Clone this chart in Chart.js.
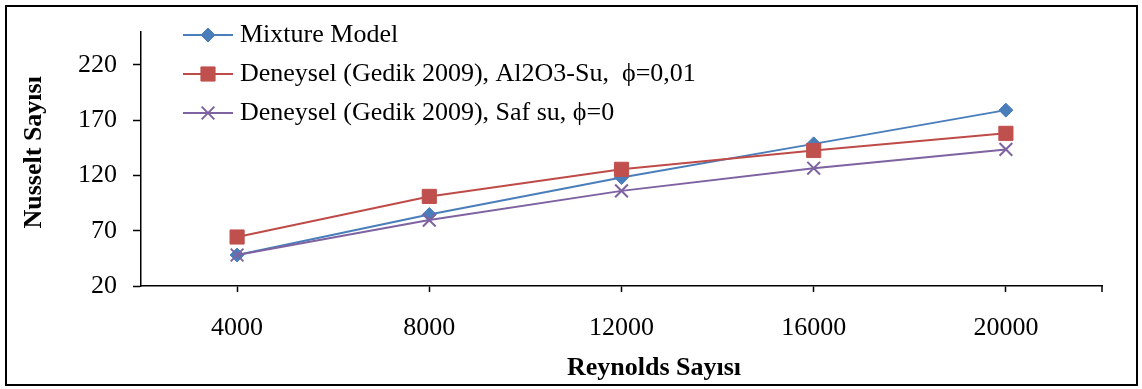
<!DOCTYPE html>
<html>
<head>
<meta charset="utf-8">
<script src="https://cdn.jsdelivr.net/npm/chart.js@4.4.0/dist/chart.umd.min.js"></script>
<style>
  html, body { margin: 0; padding: 0; background: #fff; }
  canvas { display: block; }
</style>
</head>
<body>
<canvas id="myChart" width="1142" height="389"></canvas>
<script>
// values
let reynolds = ["4000", "8000", "12000", "16000", "20000"];
let mixtureModel = [48, 84.6, 118, 148.5, 179];
let gedikAl2O3 = [64.3, 101, 125.5, 142.5, 158];
let gedikSafSu = [48, 79.6, 106, 126.5, 143.5];
let yTicks = [20, 70, 120, 170, 220];
let seriesNames = [
  "Mixture Model",
  "Deneysel (Gedik 2009), Al2O3-Su,  \u03D5=0,01",
  "Deneysel (Gedik 2009), Saf su, \u03D5=0",
];

let serif = '"Liberation Serif", "Times New Roman", serif';

// white background, outer frame and the last tick on the x axis
let framePlugin = {
  id: "frame",
  beforeDraw(chart) {
    let ctx = chart.ctx;
    ctx.save();
    ctx.fillStyle = "#fff";
    ctx.fillRect(0, 0, chart.width, chart.height);
    ctx.strokeStyle = "#000";
    ctx.lineWidth = 2;
    ctx.strokeRect(6, 6, chart.width - 11, chart.height - 10);
    ctx.restore();
  },
  afterDraw(chart) {
    let ctx = chart.ctx;
    let area = chart.chartArea;
    ctx.save();
    ctx.strokeStyle = "#000";
    ctx.lineWidth = 1.5;
    ctx.beginPath();
    ctx.moveTo(area.right, area.bottom);
    ctx.lineTo(area.right, area.bottom + 6);
    ctx.stroke();
    ctx.restore();
  },
};

// excel style legend: line sample with the marker in the middle
let legendPlugin = {
  id: "excelLegend",
  afterDatasetsDraw(chart) {
    let ctx = chart.ctx;
    let x0 = 183, x1 = 233, top = 35, rowH = 39;
    chart.data.datasets.forEach((ds, i) => {
      let y = top + i * rowH;
      ctx.save();
      ctx.strokeStyle = ds.borderColor;
      ctx.lineWidth = ds.borderWidth;
      ctx.beginPath();
      ctx.moveTo(x0, y);
      ctx.lineTo(x1, y);
      ctx.stroke();
      ctx.fillStyle = ds.pointBackgroundColor;
      ctx.strokeStyle = ds.pointBorderColor;
      ctx.lineWidth = ds.pointBorderWidth;
      Chart.helpers.drawPoint(ctx, {
        pointStyle: ds.pointStyle,
        radius: ds.pointRadius,
        rotation: 0,
        borderWidth: ds.pointBorderWidth,
      }, (x0 + x1) / 2, y);
      ctx.fillStyle = "#000";
      ctx.font = "26px " + serif;
      ctx.textBaseline = "middle";
      ctx.textAlign = "left";
      ctx.fillText(ds.label, 240, y);
      ctx.restore();
    });
  },
};

let ctx = document.getElementById("myChart").getContext("2d");
let myChart = new Chart(ctx, {
  type: "line",
  data: {
    labels: reynolds,
    datasets: [
      {
        label: seriesNames[0],
        data: mixtureModel,
        borderColor: "#4A7EBB",
        borderWidth: 2,
        pointStyle: "rectRot",
        pointRadius: 7,
        pointBackgroundColor: "#4A7EBB",
        pointBorderColor: "#4A7EBB",
        pointBorderWidth: 1,
        order: 3,
      },
      {
        label: seriesNames[1],
        data: gedikAl2O3,
        borderColor: "#BE4B48",
        borderWidth: 2,
        pointStyle: "rect",
        pointRadius: 10,
        pointBackgroundColor: "#C0504D",
        pointBorderColor: "#C0504D",
        pointBorderWidth: 1,
        order: 2,
      },
      {
        label: seriesNames[2],
        data: gedikSafSu,
        borderColor: "#7E62A1",
        borderWidth: 2,
        pointStyle: "crossRot",
        pointRadius: 9,
        pointBackgroundColor: "#7E62A1",
        pointBorderColor: "#7E62A1",
        pointBorderWidth: 2,
        order: 1,
      },
    ],
  },
  options: {
    responsive: false,
    devicePixelRatio: 1,
    animation: false,
    layout: { padding: { left: 0, top: 25, right: 40, bottom: 0 } },
    plugins: {
      legend: { display: false },
      tooltip: { enabled: false },
    },
    scales: {
      x: {
        type: "category",
        offset: true,
        grid: { drawOnChartArea: false, drawTicks: true, tickLength: 6, tickColor: "#000", tickWidth: 1.5 },
        border: { color: "#000", width: 1.5 },
        ticks: { color: "#000", font: { family: serif, size: 26 }, padding: 21, maxRotation: 0 },
        title: {
          display: true,
          text: "          Reynolds Sayısı",
          color: "#000",
          font: { family: serif, size: 26, weight: "bold" },
          padding: { top: 0, bottom: 5 },
        },
        afterFit(scale) { scale.height = 103; },
      },
      y: {
        min: 20,
        max: 250,
        grid: { drawOnChartArea: false, drawTicks: true, tickLength: 8, tickColor: "#000", tickWidth: 1.5 },
        border: { color: "#000", width: 1.5 },
        ticks: { color: "#000", font: { family: serif, size: 26 }, padding: 16 },
        afterBuildTicks(scale) { scale.ticks = yTicks.map((v) => ({ value: v })); },
        title: {
          display: true,
          text: "  Nusselt Sayısı",
          color: "#000",
          font: { family: serif, size: 26, weight: "bold" },
          padding: { top: 19, bottom: 0 },
        },
        afterFit(scale) { scale.width = 141; },
      },
    },
  },
  plugins: [framePlugin, legendPlugin],
});
</script>
</body>
</html>
